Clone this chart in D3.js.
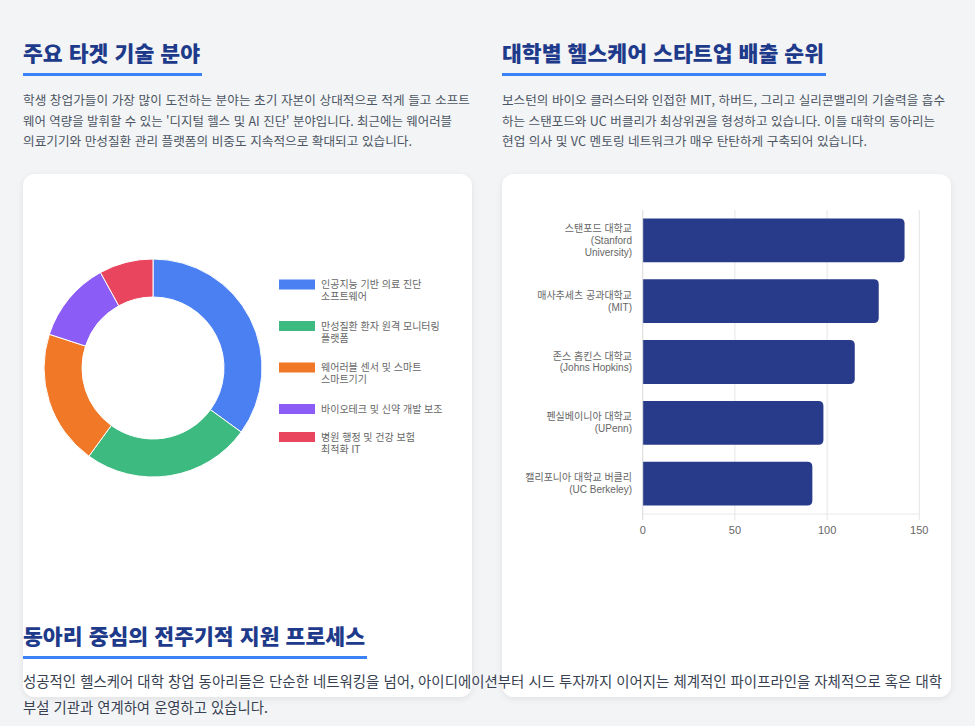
<!DOCTYPE html>
<html lang="ko">
<head>
    <meta charset="UTF-8">
    <title>헬스케어 창업 동아리</title>
    <script src="https://cdn.jsdelivr.net/npm/d3@7"></script>
    <style>
        html, body { margin: 0; padding: 0; background: #f3f4f6; }
        svg { display: block; }
        .ko { font-family: "Noto Sans CJK KR", "Noto Sans", sans-serif; }
        .chart text { font-family: "Liberation Sans", "Noto Sans CJK KR", sans-serif; fill: #666; }
    </style>
</head>
<body>

<script>
    const width  = 975;
    const height = 726;

    // donut: main target tech areas (%)
    const techLabels = [
        ["인공지능 기반 의료 진단", "소프트웨어"],
        ["만성질환 환자 원격 모니터링", "플랫폼"],
        ["웨어러블 센서 및 스마트", "스마트기기"],
        ["바이오테크 및 신약 개발 보조"],
        ["병원 행정 및 건강 보험", "최적화 IT"]
    ];
    const techShares = [35, 25, 20, 12, 8];
    const techColors = ["#4a80f2", "#3dba80", "#f07826", "#8b5cf6", "#e9455f"];

    // bars: healthcare startups per university
    const uniLabels = [
        ["스탠포드 대학교", "(Stanford", "University)"],
        ["매사추세츠 공과대학교", "(MIT)"],
        ["존스 홉킨스 대학교", "(Johns Hopkins)"],
        ["펜실베이니아 대학교", "(UPenn)"],
        ["캘리포니아 대학교 버클리", "(UC Berkeley)"]
    ];
    const startupCounts = [142, 128, 115, 98, 92];
    const xTicks = [0, 50, 100, 150];

    const headings = ["주요 타겟 기술 분야", "대학별 헬스케어 스타트업 배출 순위", "동아리 중심의 전주기적 지원 프로세스"];
    const leftText = [
        "학생 창업가들이 가장 많이 도전하는 분야는 초기 자본이 상대적으로 적게 들고 소프트",
        "웨어 역량을 발휘할 수 있는 '디지털 헬스 및 AI 진단' 분야입니다. 최근에는 웨어러블",
        "의료기기와 만성질환 관리 플랫폼의 비중도 지속적으로 확대되고 있습니다."
    ];
    const rightText = [
        "보스턴의 바이오 클러스터와 인접한 MIT, 하버드, 그리고 실리콘밸리의 기술력을 흡수",
        "하는 스탠포드와 UC 버클리가 최상위권을 형성하고 있습니다. 이들 대학의 동아리는",
        "현업 의사 및 VC 멘토링 네트워크가 매우 탄탄하게 구축되어 있습니다."
    ];
    const bottomText = [
        "성공적인 헬스케어 대학 창업 동아리들은 단순한 네트워킹을 넘어, 아이디에이션부터 시드 투자까지 이어지는 체계적인 파이프라인을 자체적으로 혹은 대학",
        "부설 기관과 연계하여 운영하고 있습니다."
    ];

    const svg = d3.select("body")
                  .append("svg").attr("width", width).attr("height", height);

    const defs = svg.append("defs");
    const shadow = defs.append("filter").attr("id", "shadow")
                       .attr("x", "-10%").attr("y", "-10%").attr("width", "120%").attr("height", "120%");
    shadow.append("feDropShadow")
          .attr("dx", 0).attr("dy", 2).attr("stdDeviation", 3)
          .attr("flood-color", "#000").attr("flood-opacity", 0.08);

    // headings + paragraphs
    function heading(txt, x, y, w) {
        svg.append("text").attr("class", "ko")
           .attr("x", x).attr("y", y)
           .attr("font-size", 21).attr("font-weight", 900).attr("fill", "#1e3a8a")
           .attr("textLength", w).attr("lengthAdjust", "spacingAndGlyphs")
           .text(txt);
        svg.append("rect")
           .attr("x", x).attr("y", y + 12).attr("width", w + 2).attr("height", 3)
           .attr("fill", "#3b82f6");
    }

    function paragraph(lines, x, y0, lh, widths, size, color) {
        lines.forEach((t, i) => {
            svg.append("text").attr("class", "ko")
               .attr("x", x).attr("y", y0 + i * lh)
               .attr("font-size", size).attr("fill", color)
               .attr("textLength", widths[i]).attr("lengthAdjust", "spacingAndGlyphs")
               .text(t);
        });
    }

    heading(headings[0], 23, 61, 177);
    heading(headings[1], 502, 61, 322);
    paragraph(leftText, 23, 105, 20.5, [447, 429, 389], 12.5, "#4b5563");
    paragraph(rightText, 502, 105, 20.5, [443, 433, 365], 12.5, "#4b5563");

    // cards
    [23, 502].forEach(x => {
        svg.append("rect")
           .attr("x", x).attr("y", 174).attr("width", 449).attr("height", 523)
           .attr("rx", 12).attr("fill", "#fff")
           .attr("filter", "url(#shadow)");
    });

    // ---- donut ----
    const donut = svg.append("g").attr("class", "chart")
                     .attr("transform", "translate(153,368)");

    const pie = d3.pie().sort(null).value(d => d);
    const arc = d3.arc().innerRadius(71).outerRadius(109);

    donut.selectAll("path")
         .data(pie(techShares))
         .join("path")
         .attr("d", arc)
         .attr("fill", (d, i) => techColors[i])
         .attr("stroke", "#fff").attr("stroke-width", 1);

    const legend = svg.append("g").attr("class", "chart");
    let ly = 284.5;
    techLabels.forEach((lines, i) => {
        legend.append("rect")
              .attr("x", 279).attr("y", ly - 5).attr("width", 36).attr("height", 10)
              .attr("fill", techColors[i]);
        lines.forEach((t, k) => {
            legend.append("text")
                  .attr("x", 321).attr("y", ly + k * 12)
                  .attr("dy", "0.35em").attr("font-size", 10)
                  .text(t);
        });
        ly += lines.length * 13.5 + 14.5;
    });

    // ---- bar chart ----
    const bars = svg.append("g").attr("class", "chart");

    const x = d3.scaleLinear().domain([0, 150]).range([642.7, 919.3]);
    const y = d3.scaleBand()
                .domain(uniLabels.map((d, i) => i))
                .range([210, 514])
                .paddingInner(0.28).paddingOuter(0.14);

    bars.selectAll("line.grid")
        .data(xTicks)
        .join("line").attr("class", "grid")
        .attr("x1", d => x(d)).attr("x2", d => x(d))
        .attr("y1", 210).attr("y2", 520)
        .attr("stroke", "#e5e5e5");

    bars.append("line")
        .attr("x1", x(0)).attr("x2", x(150))
        .attr("y1", 514).attr("y2", 514)
        .attr("stroke", "#e8e8e8");

    const r = 5;
    bars.selectAll("path.bar")
        .data(startupCounts)
        .join("path").attr("class", "bar")
        .attr("d", (d, i) => {
            const x0 = x(0), x1 = x(d), y0 = y(i), h = y.bandwidth();
            return "M" + x0 + "," + y0 +
                   "H" + (x1 - r) +
                   "Q" + x1 + "," + y0 + " " + x1 + "," + (y0 + r) +
                   "V" + (y0 + h - r) +
                   "Q" + x1 + "," + (y0 + h) + " " + (x1 - r) + "," + (y0 + h) +
                   "H" + x0 + "Z";
        })
        .attr("fill", "#283a8a");

    bars.append("line")
        .attr("x1", x(0)).attr("x2", x(0))
        .attr("y1", 210).attr("y2", 520)
        .attr("stroke", "#e0e0e0");

    bars.selectAll("text.tick")
        .data(xTicks)
        .join("text").attr("class", "tick")
        .attr("x", d => x(d)).attr("y", 530)
        .attr("dy", "0.35em").attr("text-anchor", "middle")
        .attr("font-size", 11)
        .text(d => d);

    uniLabels.forEach((lines, i) => {
        const cy = y(i) + y.bandwidth() / 2;
        const lh = 11.7;
        lines.forEach((t, k) => {
            bars.append("text")
                .attr("x", 632).attr("y", cy + (k - (lines.length - 1) / 2) * lh)
                .attr("dy", "0.35em").attr("text-anchor", "end")
                .attr("font-size", 10)
                .text(t);
        });
    });

    // bottom section spills over the cards
    heading(headings[2], 23, 644, 342);
    paragraph(bottomText, 23, 687, 26, [919, 245], 14.5, "#374151");

</script>

</body>
</html>
